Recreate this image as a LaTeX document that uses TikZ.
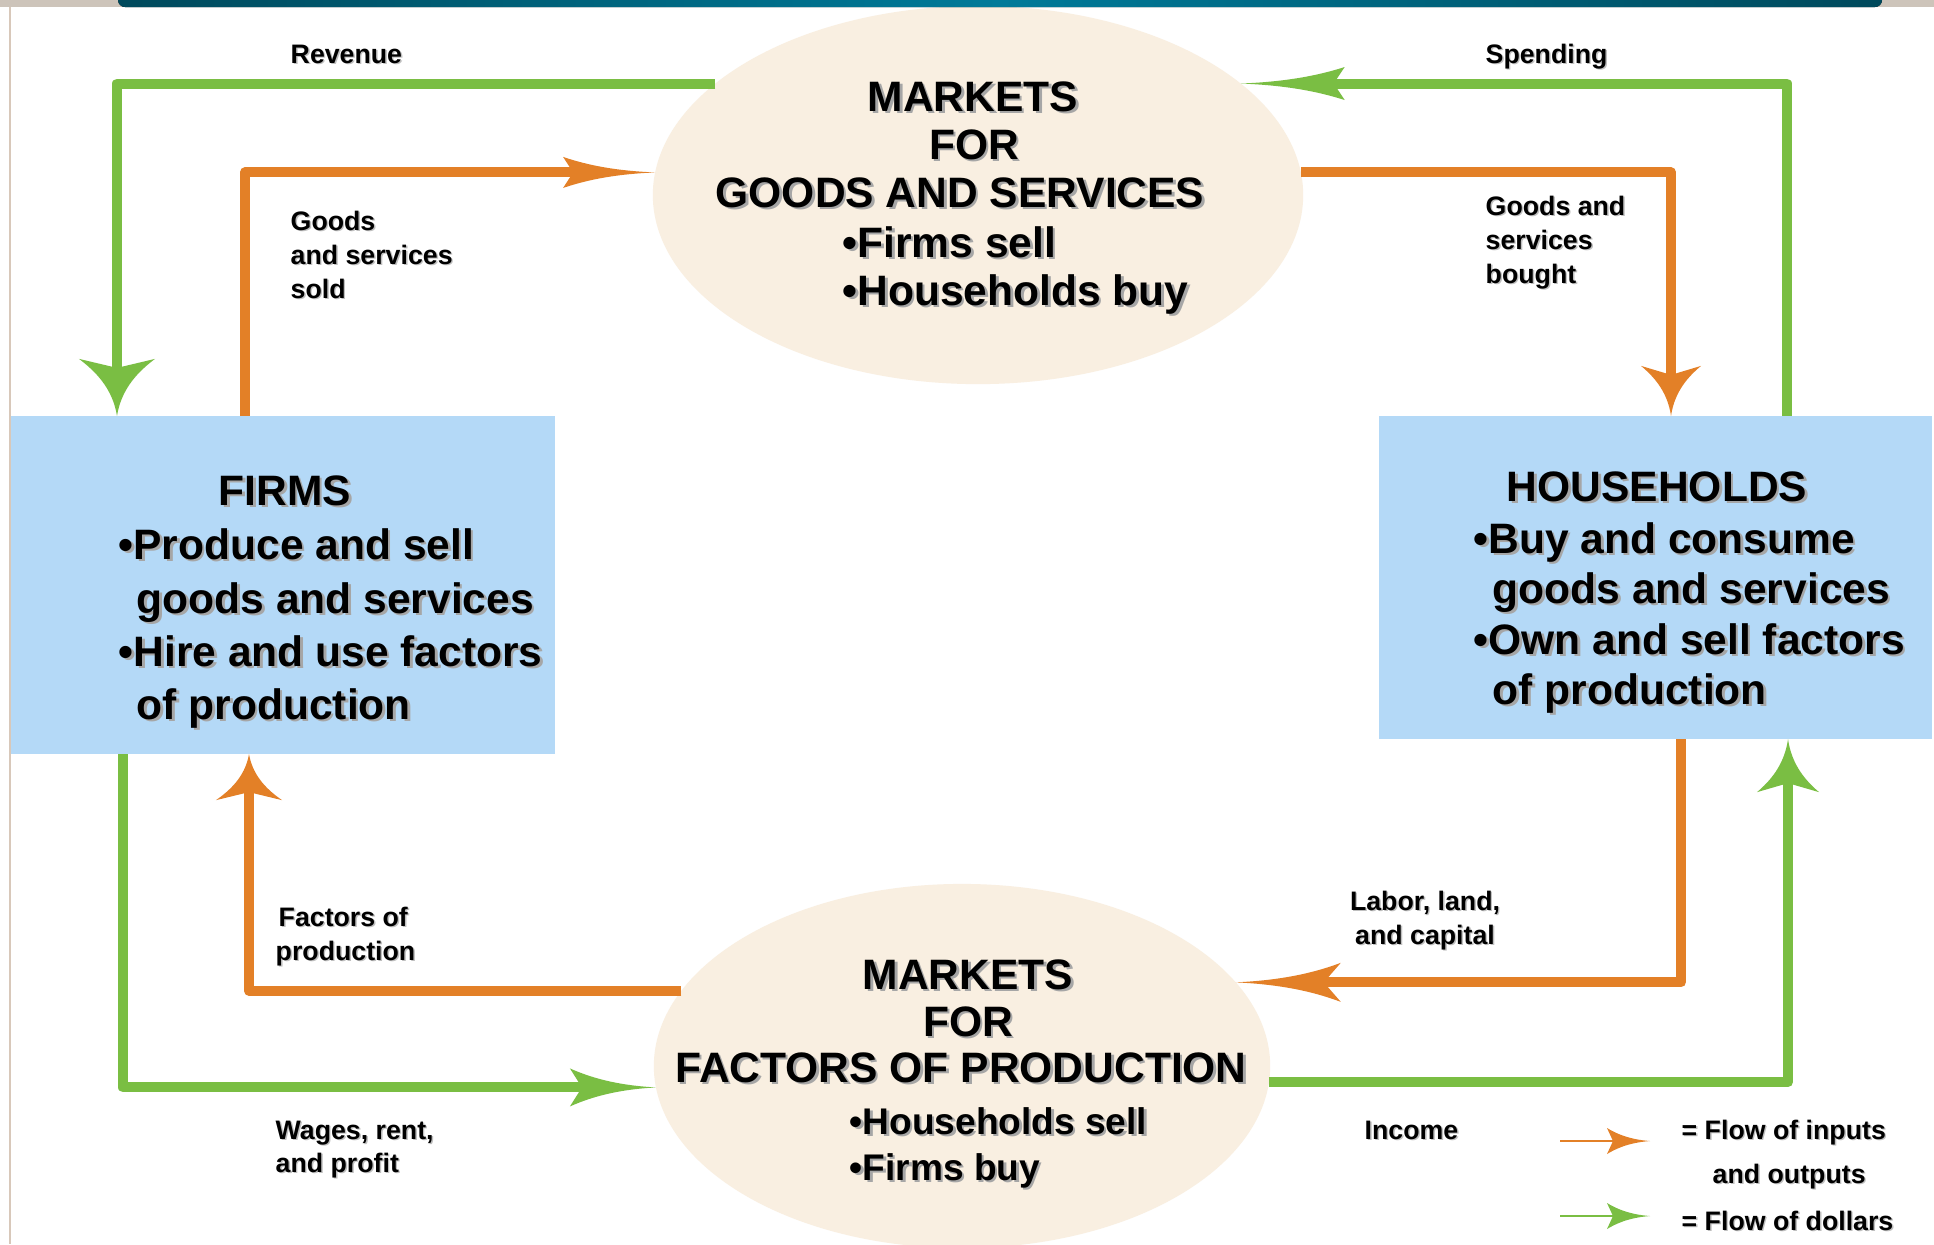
\documentclass[tikz,border=0pt]{standalone}
\usepackage{fontspec}
\setmainfont{Liberation Sans}
\usetikzlibrary{arrows.meta,shapes.geometric}

\definecolor{gfl}{RGB}{122,190,67}
\definecolor{ofl}{RGB}{227,128,39}
\definecolor{boxblue}{RGB}{180,217,247}
\definecolor{ellbeige}{RGB}{249,239,225}
\definecolor{topteal}{RGB}{0,122,153}
\definecolor{topgray}{RGB}{205,196,186}
\definecolor{edgebeige}{RGB}{216,200,186}

\newcommand\bigshd[1]{\makebox[0pt][l]{\kern0.7pt\raisebox{-0.7pt}{\color{black!35}#1}}#1}
\newcommand\smshd[1]{\makebox[0pt][l]{\kern0.4pt\raisebox{-0.4pt}{\color{black!25}#1}}#1}

\pgfdeclarearrow{
  name = Dart,
  defaults = { length = 5mm, width = 5mm, inset = 1mm },
  setup code = {
    \pgfarrowssettipend{\pgfarrowlength}
    \pgfarrowssetlineend{0.3\pgfarrowlength}
    \pgfarrowssavethe\pgfarrowlength
    \pgfarrowssavethe\pgfarrowwidth
    \pgfarrowssavethe\pgfarrowinset
  },
  drawing code = {
    \pgfpathmoveto{\pgfpoint{\pgfarrowlength}{0pt}}
    \pgfpathcurveto{\pgfpoint{0.5*\pgfarrowlength}{0.06*\pgfarrowwidth}}{\pgfpoint{0.2*\pgfarrowlength}{0.3*\pgfarrowwidth}}{\pgfpoint{0pt}{0.5*\pgfarrowwidth}}
    \pgfpathlineto{\pgfpoint{\pgfarrowinset}{0pt}}
    \pgfpathlineto{\pgfpoint{0pt}{-0.5*\pgfarrowwidth}}
    \pgfpathcurveto{\pgfpoint{0.2*\pgfarrowlength}{-0.3*\pgfarrowwidth}}{\pgfpoint{0.5*\pgfarrowlength}{-0.06*\pgfarrowwidth}}{\pgfpoint{\pgfarrowlength}{0pt}}
    \pgfpathclose
    \pgfusepathqfill
  },
  parameters = { \the\pgfarrowlength,\the\pgfarrowwidth,\the\pgfarrowinset },
}

\tikzset{
  ell/.style={ellipse, fill=ellbeige, draw=none, inner sep=0pt, outer sep=0pt},
  bbox/.style={rectangle, fill=boxblue, draw=none, inner sep=0pt, outer sep=0pt},
  gline/.style={draw=gfl, line width=1mm, line join=round},
  oline/.style={draw=ofl, line width=1mm, line join=round},
  bigt/.style={inner sep=0pt, font=\fontsize{12.1pt}{14pt}\selectfont\bfseries},
  midt/.style={inner sep=0pt, font=\fontsize{10.55pt}{12pt}\selectfont\bfseries},
  smt/.style={inner sep=0pt, font=\fontsize{7.6pt}{9pt}\selectfont\bfseries},
}

\begin{document}
\begin{tikzpicture}[x=0.01cm, y=-0.01cm]
\useasboundingbox (0,0) rectangle (1934,1244);
\clip (0,0) rectangle (1934,1244);
\fill[white] (0,0) rectangle (1934,1244);

% main shapes
\node[ell, minimum width=6.5cm, minimum height=3.78cm] (G) at (978,195) {};
\node[ell, minimum width=6.16cm, minimum height=3.64cm] (F) at (962,1066) {};
\node[bbox, minimum width=5.45cm, minimum height=3.38cm] (firms) at (282.5,585) {};
\node[bbox, minimum width=5.53cm, minimum height=3.23cm] (hh) at (1655.5,577.5) {};

% top bar and left edge
\fill[topgray] (0,0) rectangle (1934,7);
\fill[left color=topteal!60!black, right color=topteal!60!black, middle color=topteal, rounded corners=2pt] (118,-10) rectangle (1882,7);
\draw[edgebeige, line width=0.15mm] (10,7) -- (10,1244);

% connectors
\draw[gline, -{Dart[length=5.7mm,width=7.6mm,inset=0.9mm]}] (G.157) -| (firms.north -| 117,0);
\draw[oline, -{Dart[length=9.2mm,width=3.1mm,inset=1.0mm]}] (firms.north -| 245,0) |- (G.176);
\draw[gline, -{Dart[length=10.4mm,width=3.3mm,inset=1.1mm]}] (hh.north -| 1787,0) |- (G.23);
\draw[oline, -{Dart[length=5.0mm,width=6.0mm,inset=0.9mm]}] (G.4) -| (hh.north -| 1671,0);
\draw[oline, -{Dart[length=4.6mm,width=6.6mm,inset=0.8mm]}] (F.165) -| (firms.south -| 249,0);
\draw[oline, -{Dart[length=10.5mm,width=3.9mm,inset=1.7mm]}] (hh.south -| 1681,0) |- (F.17);
\draw[gline, -{Dart[length=8.6mm,width=3.8mm,inset=1.2mm]}] (firms.south -| 123,0) |- (F.-176);
\draw[gline, -{Dart[length=5.3mm,width=6.2mm,inset=0.9mm]}] (F.-3) -| (hh.south -| 1788,0);

% top ellipse text
\node[bigt, anchor=base] (g1) at (973,111) {\bigshd{MARKETS}};
\node[bigt, anchor=base] (g2) at (974,159) {\bigshd{FOR}};
\node[bigt, anchor=base] (g3) at (960,207) {\bigshd{GOODS AND SERVICES}};
\node[bigt, anchor=base west] (g4) at (842,257) {\bigshd{•Firms sell}};
\node[bigt, anchor=base west] (g5) at (842,305) {\bigshd{•Households buy}};

% firms text
\node[bigt, anchor=base] (f1) at (285,505) {\bigshd{FIRMS}};
\node[bigt, anchor=base west] (f2) at (118,559) {\bigshd{•Produce and sell}};
\node[bigt, anchor=base west] (f3) at (136,613) {\bigshd{goods and services}};
\node[bigt, anchor=base west] (f4) at (118,666) {\bigshd{•Hire and use factors}};
\node[bigt, anchor=base west] (f5) at (136,719) {\bigshd{of production}};

% households text
\node[bigt, anchor=base] (h1) at (1657,501) {\bigshd{HOUSEHOLDS}};
\node[bigt, anchor=base west] (h2) at (1473,553) {\bigshd{•Buy and consume}};
\node[bigt, anchor=base west] (h3) at (1492,603) {\bigshd{goods and services}};
\node[bigt, anchor=base west] (h4) at (1473,654) {\bigshd{•Own and sell factors}};
\node[bigt, anchor=base west] (h5) at (1492,704) {\bigshd{of production}};

% bottom ellipse text
\node[bigt, anchor=base] (m1) at (968,989) {\bigshd{MARKETS}};
\node[bigt, anchor=base] (m2) at (968,1036) {\bigshd{FOR}};
\node[bigt, anchor=base] (m3) at (961,1082) {\bigshd{FACTORS OF PRODUCTION}};
\node[midt, anchor=base west] (m4) at (849,1134) {\bigshd{•Households sell}};
\node[midt, anchor=base west] (m5) at (849,1180) {\bigshd{•Firms buy}};

% flow labels
\node[smt, anchor=base west] (lrev) at (290,63) {\smshd{Revenue}};
\node[smt, anchor=base west] (lgs1) at (290,230) {\smshd{Goods}};
\node[smt, anchor=base west] (lgs2) at (290,264) {\smshd{and services}};
\node[smt, anchor=base west] (lgs3) at (290,298) {\smshd{sold}};
\node[smt, anchor=base west] (lsp) at (1485,63) {\smshd{Spending}};
\node[smt, anchor=base west] (lgb1) at (1485,215) {\smshd{Goods and}};
\node[smt, anchor=base west] (lgb2) at (1485,249) {\smshd{services}};
\node[smt, anchor=base west] (lgb3) at (1485,283) {\smshd{bought}};
\node[smt, anchor=base west] (lfp1) at (278,926) {\smshd{Factors of}};
\node[smt, anchor=base west] (lfp2) at (275,960) {\smshd{production}};
\node[smt, anchor=base] (llc1) at (1425,910) {\smshd{Labor, land,}};
\node[smt, anchor=base] (llc2) at (1425,944) {\smshd{and capital}};
\node[smt, anchor=base west] (lw1) at (275,1139) {\smshd{Wages, rent,}};
\node[smt, anchor=base west] (lw2) at (275,1172) {\smshd{and profit}};
\node[smt, anchor=base west] (linc) at (1364,1139) {\smshd{Income}};

% legend
\coordinate (lo1) at (1560,1141);
\coordinate (lo2) at (1650,1141);
\coordinate (lg1) at (1560,1216);
\coordinate (lg2) at (1650,1216);
\draw[draw=ofl, line width=0.25mm, -{Dart[length=4.3mm,width=2.6mm,inset=0.6mm]}] (lo1) -- (lo2);
\draw[draw=gfl, line width=0.25mm, -{Dart[length=4.3mm,width=2.6mm,inset=0.6mm]}] (lg1) -- (lg2);
\node[smt, anchor=base west] (leg1) at (1681,1139) {\smshd{= Flow of inputs}};
\node[smt, anchor=base west] (leg2) at (1712,1183) {\smshd{and outputs}};
\node[smt, anchor=base west] (leg3) at (1681,1230) {\smshd{= Flow of dollars}};
\end{tikzpicture}
\end{document}
